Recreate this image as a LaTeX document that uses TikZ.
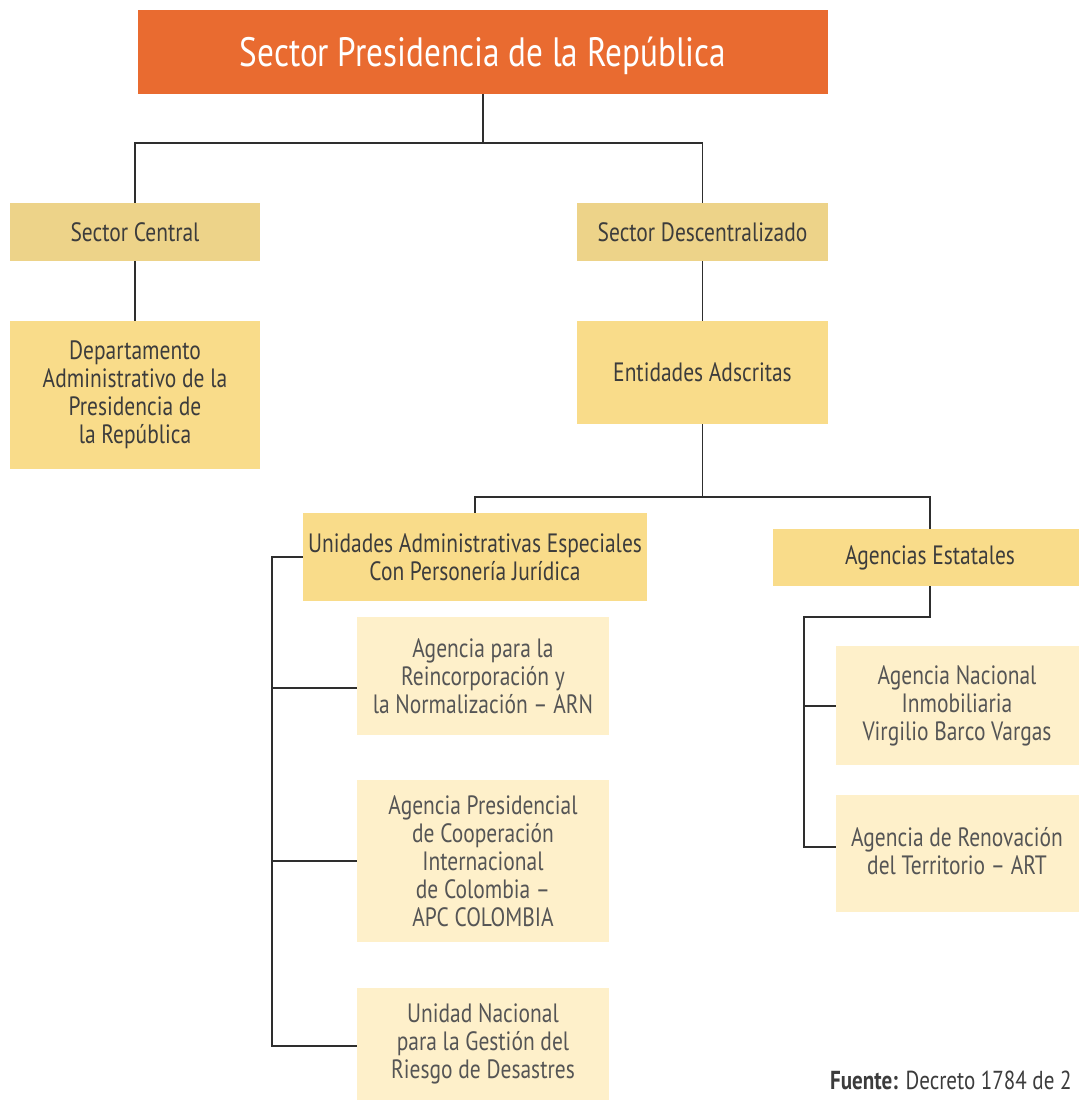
\documentclass[tikz,border=0pt]{standalone}
\usepackage{fontspec}
\setmainfont{PT Sans}[FakeStretch=0.81]
\usetikzlibrary{calc}
\definecolor{cOrange}{HTML}{E96B30}
\definecolor{cTan}{HTML}{EDD389}
\definecolor{cYel}{HTML}{F9DC8A}
\definecolor{cLight}{HTML}{FEF0CA}
\definecolor{cLine}{HTML}{2E2E2E}
\definecolor{cText}{HTML}{3C3C3C}
\definecolor{cText2}{HTML}{555555}
\begin{document}
\begin{tikzpicture}[x=1pt,y=-1pt,
  box/.style={rectangle,inner sep=0pt,align=center,text=cText,
    font=\fontsize{26.5}{28}\selectfont},
  boxtan/.style={box,fill=cTan},
  boxyel/.style={box,fill=cYel},
  boxlight/.style={box,fill=cLight,text=cText2},
  conn/.style={draw=cLine,line width=1.6pt}]
\useasboundingbox[fill=white] (0,0) rectangle (1078,1102);
\node[box,fill=cOrange,text=white,minimum width=690pt,minimum height=84pt,
  text depth=0pt,font=\fontsize{41}{46}\selectfont] (top) at (483,52) {Sector Presidencia de la República};
\node[boxtan,minimum width=250pt,minimum height=58pt] (sc) at (135,232) {Sector Central};
\node[boxtan,minimum width=251pt,minimum height=58pt] (sd) at (702.5,232) {Sector Descentralizado};
\node[boxyel,minimum width=250pt,minimum height=148pt] (dapr) at (135,395)
  {Departamento\\Administrativo de la\\Presidencia de\\la República};
\node[boxyel,minimum width=251pt,minimum height=103pt] (ea) at (702.5,372.5) {Entidades Adscritas};
\node[boxyel,minimum width=344pt,minimum height=88pt] (uae) at (475,557)
  {Unidades Administrativas Especiales\\Con Personería Jurídica};
\node[boxyel,minimum width=314pt,minimum height=57pt] (ae) at (930,557.5) {};
\node[box,text=cText] (aet) at (930,557.5) {Agencias Estatales};
\node[boxlight,minimum width=252pt,minimum height=118pt] (arn) at (483,676)
  {Agencia para la\\Reincorporación y\\la Normalización – ARN};
\node[boxlight,minimum width=252pt,minimum height=162pt] (apc) at (483,861)
  {Agencia Presidencial\\de Cooperación\\Internacional\\de Colombia –\\APC COLOMBIA};
\node[boxlight,minimum width=252pt,minimum height=112pt] (ung) at (483,1044)
  {Unidad Nacional\\para la Gestión del\\Riesgo de Desastres};
\node[boxlight,minimum width=260pt,minimum height=119pt] (ana) at (966,705.5) {};
\node[box,text=cText2] (anat) at (957,706) {Agencia Nacional\\Inmobiliaria\\Virgilio Barco Vargas};
\node[boxlight,minimum width=260pt,minimum height=117pt] (art) at (966,853.5) {};
\node[box,text=cText2] (artt) at (957,851) {Agencia de Renovación\\del Territorio – ART};
\node[anchor=base west,inner sep=0pt,text=cText,font=\fontsize{26}{28}\selectfont] (src) at (830,1089)
  {\textbf{Fuente:} Decreto 1784 de 2};
% connectors
\coordinate (j1) at (483,143);
\coordinate (j2) at (702.5,497);
\coordinate (lb) at (272,557);
\coordinate (b1) at (272,688);
\coordinate (b2) at (272,861);
\coordinate (b3) at (272,1046);
\coordinate (r1) at (930,617);
\coordinate (r2) at (804,617);
\coordinate (r3) at (804,706);
\coordinate (r4) at (804,847);
\draw[conn] (top.south) -- (j1);
\draw[conn] (sc.north) |- (j1) -| (sd.north);
\draw[conn] (sc.south) -- (dapr.north);
\draw[conn] (sd.south) -- (ea.north);
\draw[conn] (ea.south) -- (j2);
\draw[conn] (uae.north) |- (j2) -| (ae.north);
\draw[conn] (uae.west) -- (lb) -- (b3) -- (b3 -| ung.west);
\draw[conn] (b1) -- (b1 -| arn.west);
\draw[conn] (b2) -- (b2 -| apc.west);
\draw[conn] (ae.south) -- (r1) -- (r2) -- (r4) -- (r4 -| art.west);
\draw[conn] (r3) -- (r3 -| ana.west);
\end{tikzpicture}
\end{document}
